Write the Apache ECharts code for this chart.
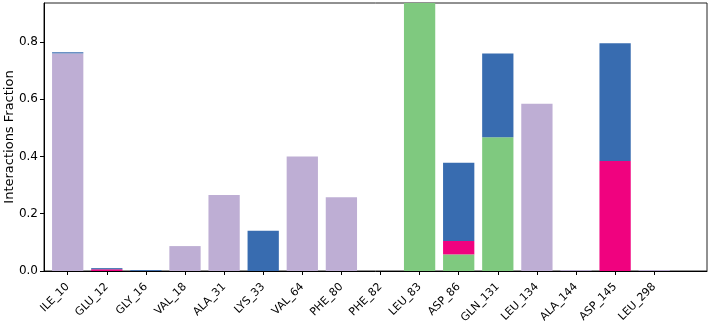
<!DOCTYPE html>
<html>
<head>
<meta charset="utf-8">
<script src="https://cdn.jsdelivr.net/npm/echarts@6/dist/echarts.min.js"></script>
<style>
  html, body { margin: 0; padding: 0; background: #fff; }
  #chart { width: 712px; height: 324px; }
</style>
</head>
<body>
<div id="chart"></div>
<script>
var categories = ["ILE_10", "GLU_12", "GLY_16", "VAL_18", "ALA_31", "LYS_33", "VAL_64", "PHE_80",
  "PHE_82", "LEU_83", "ASP_86", "GLN_131", "LEU_134", "ALA_144", "ASP_145", "LEU_298"];
var hBonds      = [0, 0, 0, 0, 0, 0, 0, 0, 0, 0.94, 0.058, 0.467, 0, 0, 0, 0];
var hydrophobic = [0.760, 0, 0, 0.087, 0.265, 0, 0.400, 0.258, 0, 0, 0, 0, 0.584, 0.003, 0, 0.003];
var ionic       = [0, 0.006, 0, 0, 0, 0, 0, 0, 0, 0, 0.047, 0, 0, 0, 0.384, 0];
var waterBridge = [0.004, 0.004, 0.003, 0, 0, 0.141, 0, 0, 0, 0, 0.273, 0.293, 0, 0, 0.411, 0];
var yMax = 0.936;

var font = "DejaVu Sans";
var chart = echarts.init(document.getElementById("chart"));

function makeBar(name, data, color) {
  return {
    name: name,
    type: "bar",
    stack: "total",
    xAxisIndex: 1,
    yAxisIndex: 1,
    barWidth: "80%",
    itemStyle: { color: color },
    data: data
  };
}

var option = {
  animation: false,
  grid: [
    // frame + y axis
    { left: 44, right: 5, top: 3, bottom: 53, show: true, borderColor: "#222", borderWidth: 1,
      containLabel: false, outerBoundsMode: "none" },
    // bars (narrower so the categories sit where they do in the original)
    { left: 48.15, right: 38.25, top: 3, bottom: 53, containLabel: false, outerBoundsMode: "none" }
  ],
  xAxis: [
    {
      gridIndex: 0, type: "value", min: 0, max: 1,
      axisLine: { show: true, lineStyle: { color: "#000", width: 1 } },
      axisTick: { show: false }, axisLabel: { show: false }, splitLine: { show: false }
    },
    {
      gridIndex: 1, type: "category", data: categories,
      axisLine: { show: false },
      axisTick: { show: true, alignWithLabel: true, length: 4, lineStyle: { color: "#000" } },
      axisLabel: { interval: 0, rotate: 45, margin: 14, fontSize: 11, fontFamily: font, color: "#000" },
      splitLine: { show: false }
    }
  ],
  yAxis: [
    {
      gridIndex: 0, type: "value", min: 0, max: yMax, interval: 0.2,
      name: "Interactions Fraction", nameLocation: "middle", nameGap: 28, nameMoveOverlap: false,
      nameTextStyle: { fontSize: 13, fontFamily: font, color: "#000" },
      axisLine: { show: true, lineStyle: { color: "#000", width: 1 } },
      axisTick: { show: true, length: 4, lineStyle: { color: "#000" } },
      axisLabel: {
        fontSize: 12, fontFamily: font, color: "#000", margin: 6, showMaxLabel: false,
        formatter: function (v) { return v.toFixed(1); }
      },
      splitLine: { show: false }
    },
    {
      gridIndex: 1, type: "value", min: 0, max: yMax,
      axisLine: { show: false }, axisTick: { show: false }, axisLabel: { show: false }, splitLine: { show: false }
    }
  ],
  series: [
    makeBar("H-bonds", hBonds, "#7fc97f"),
    makeBar("Hydrophobic", hydrophobic, "#beaed4"),
    makeBar("Ionic", ionic, "#f0027f"),
    makeBar("Water bridges", waterBridge, "#386cb0")
  ]
};
chart.setOption(option);
</script>
</body>
</html>
